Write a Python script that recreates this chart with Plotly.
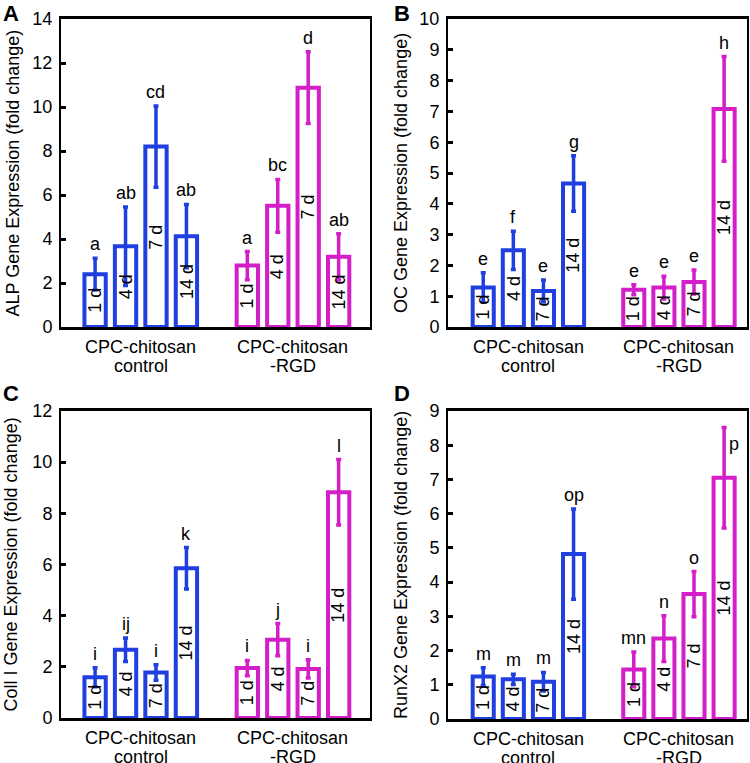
import plotly.graph_objects as go

# ---------------- data ----------------
days = ["1 d", "4 d", "7 d", "14 d"]
group_names = [["CPC-chitosan", "control"], ["CPC-chitosan", "-RGD"]]

panel_letters = ["A", "B", "C", "D"]
y_titles = ["ALP Gene Expression (fold change)",
            "OC Gene Expression (fold change)",
            "Coll I Gene Expression (fold change)",
            "RunX2 Gene Expression (fold change)"]
y_max = [14, 10, 12, 9]
y_dtick = [2, 1, 2, 1]

# ALP
alp_ctrl = [2.40, 3.67, 8.20, 4.13]
alp_ctrl_err = [0.72, 1.78, 1.85, 1.44]
alp_rgd = [2.79, 5.51, 10.88, 3.19]
alp_rgd_err = [0.64, 1.20, 1.63, 1.05]
alp_ctrl_sig = ["a", "ab", "cd", "ab"]
alp_rgd_sig = ["a", "bc", "d", "ab"]

# OC
oc_ctrl = [1.28, 2.49, 1.17, 4.66]
oc_ctrl_err = [0.48, 0.62, 0.36, 0.90]
oc_rgd = [1.21, 1.28, 1.46, 7.08]
oc_rgd_err = [0.16, 0.37, 0.39, 1.70]
oc_ctrl_sig = ["e", "f", "e", "g"]
oc_rgd_sig = ["e", "e", "e", "h"]

# Coll I
col_ctrl = [1.59, 2.67, 1.78, 5.85]
col_ctrl_err = [0.37, 0.46, 0.30, 0.81]
col_rgd = [1.95, 3.06, 1.92, 8.82]
col_rgd_err = [0.30, 0.63, 0.36, 1.28]
col_ctrl_sig = ["i", "ij", "i", "k"]
col_rgd_sig = ["i", "j", "i", "l"]

# RunX2
run_ctrl = [1.24, 1.16, 1.09, 4.82]
run_ctrl_err = [0.26, 0.15, 0.27, 1.32]
run_rgd = [1.45, 2.35, 3.65, 7.05]
run_rgd_err = [0.51, 0.67, 0.66, 1.47]
run_ctrl_sig = ["m", "m", "m", "op"]
run_rgd_sig = ["mn", "n", "o", "p"]

panels = [
    (alp_ctrl, alp_ctrl_err, alp_ctrl_sig, alp_rgd, alp_rgd_err, alp_rgd_sig),
    (oc_ctrl, oc_ctrl_err, oc_ctrl_sig, oc_rgd, oc_rgd_err, oc_rgd_sig),
    (col_ctrl, col_ctrl_err, col_ctrl_sig, col_rgd, col_rgd_err, col_rgd_sig),
    (run_ctrl, run_ctrl_err, run_ctrl_sig, run_rgd, run_rgd_err, run_rgd_sig),
]

# ---------------- style / layout ----------------
W, H = 750, 763
FONT = "Liberation Sans, Arial, sans-serif"
BLUE = "#1f3fe0"
MAGENTA = "#d41ec8"
colors = [BLUE, MAGENTA]

# plot boxes in pixels: (left, right, top, bottom)
boxes = [(61, 370, 19, 327), (448, 747, 19, 327),
         (61, 370, 411, 718), (448, 747, 411, 719)]
x_ranges = [[-1.12, 9.03], [-1.17, 8.76], [-1.12, 9.03], [-1.17, 8.76]]
title_x_px = [12.5, 401, 10, 401]
letter_x_px = [1, 392, 1, 392]
letter_y_px = [-1, -1, 379, 379]
GROUP_OFFSET = 5

fig = go.Figure()
annotations = []
layout_axes = {}

for p, (c_v, c_e, c_s, r_v, r_e, r_s) in enumerate(panels):
    n = "" if p == 0 else str(p + 1)
    xa, ya = "x" + n, "y" + n
    l, r, t, b = boxes[p]
    for g, (vals, errs, sigs) in enumerate([(c_v, c_e, c_s), (r_v, r_e, r_s)]):
        xs = [i + g * GROUP_OFFSET for i in range(len(vals))]
        fig.add_trace(go.Bar(
            x=xs, y=vals, width=0.7, xaxis=xa, yaxis=ya,
            marker=dict(color="white", line=dict(color=colors[g], width=4)),
            error_y=dict(type="data", array=errs, color=colors[g],
                         thickness=3.5, width=2.5),
            showlegend=False, hoverinfo="skip",
        ))
        for x, v, e, s, d in zip(xs, vals, errs, sigs, days):
            # day label inside bar
            annotations.append(dict(
                x=x, y=v / 2, xref=xa, yref=ya, text=d, textangle=-90,
                showarrow=False, font=dict(family=FONT, size=18, color="black"),
                xanchor="center", yanchor="middle"))
            top = v + e
            if top > 0.92 * y_max[p]:
                annotations.append(dict(
                    x=x, y=top - 0.055 * y_max[p], xref=xa, yref=ya, text=s,
                    showarrow=False, font=dict(family=FONT, size=18, color="black"),
                    xanchor="left", yanchor="middle", xshift=3))
            else:
                annotations.append(dict(
                    x=x, y=top, xref=xa, yref=ya, text=s,
                    showarrow=False, font=dict(family=FONT, size=18, color="black"),
                    xanchor="center", yanchor="bottom", yshift=2))
        gx = (len(vals) - 1) / 2 + g * GROUP_OFFSET
        for li, line in enumerate(group_names[g]):
            annotations.append(dict(
                x=gx, y=0, xref=xa, yref=ya + " domain", text=line,
                showarrow=False, font=dict(family=FONT, size=18, color="black"),
                xanchor="center", yanchor="top", yshift=-8 - 18.5 * li))
    # y-axis title
    annotations.append(dict(
        x=title_x_px[p] / W, y=0.5, xref="paper", yref=ya + " domain",
        text=y_titles[p], textangle=-90, showarrow=False,
        font=dict(family=FONT, size=18, color="black"),
        xanchor="center", yanchor="middle"))
    # panel letter
    annotations.append(dict(
        x=letter_x_px[p] / W, y=1 - letter_y_px[p] / H, xref="paper", yref="paper",
        text="<b>" + panel_letters[p] + "</b>", showarrow=False,
        font=dict(family=FONT, size=22, color="black"),
        xanchor="left", yanchor="top"))

    layout_axes["xaxis" + n] = dict(
        domain=[l / W, r / W], range=x_ranges[p], anchor=ya,
        showticklabels=False, ticks="", showgrid=False, zeroline=False,
        showline=True, linecolor="black", linewidth=2.5, mirror=True,
        fixedrange=True, automargin=False)
    layout_axes["yaxis" + n] = dict(
        domain=[1 - b / H, 1 - t / H], range=[0, y_max[p]], anchor=xa,
        dtick=y_dtick[p], tick0=0, ticks="inside", ticklen=5, tickwidth=2.5,
        tickcolor="black", showgrid=False, zeroline=False,
        showline=True, linecolor="black", linewidth=2, mirror=True,
        tickfont=dict(family=FONT, size=18, color="black"),
        ticklabelstandoff=3, fixedrange=True, automargin=False)

fig.update_layout(
    width=W, height=H, margin=dict(l=0, r=0, t=0, b=0, autoexpand=False),
    paper_bgcolor="white", plot_bgcolor="white",
    barmode="overlay", annotations=annotations, showlegend=False,
    font=dict(family=FONT, color="black"),
    **layout_axes)

fig.write_html(
    "out.html",
    config={"displayModeBar": False},
    post_script="document.body.style.margin='0';document.body.style.padding='0';"
                "document.body.style.overflow='hidden';"
                "document.documentElement.style.overflow='hidden';",
)
